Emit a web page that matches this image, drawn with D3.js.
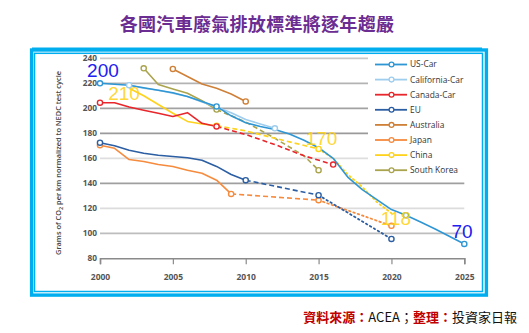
<!DOCTYPE html>
<html><head><meta charset="utf-8">
<script src="https://cdn.jsdelivr.net/npm/d3@7"></script>
<style>
html,body{margin:0;padding:0;background:#fff;}
svg{display:block;}
</style></head>
<body>
<svg id="chart" width="529" height="333"></svg>
<script>
// ---------- data ----------
const titleText = "各國汽車廢氣排放標準將逐年趨嚴";
const xTicks = [2000, 2005, 2010, 2015, 2020, 2025];
const yTicks = [80, 100, 120, 140, 160, 180, 200, 220, 240];
const yAxisTitle = ["Grams of CO", "2", " per km normalized to NEDC test cycle"];
const seriesNames = ["US-Car", "California-Car", "Canada-Car", "EU", "Australia", "Japan", "China", "South Korea"];

// solid = historical, dashed = enacted target, dotted = proposed target
const usCarSolid = [[2000,220],[2001,219.3],[2002,218.5],[2003,216.5],[2004,214.5],[2005,212.5],[2006,209.5],[2007,205.5],[2008,201.5],[2009,194],[2010,188.5],[2011,185.5],[2012,183],[2013,179.5],[2014,174.5],[2015,168.5],[2016,160],[2017,145],[2018,135],[2019,127],[2020,119],[2021,114.5],[2022,109],[2023,103.5],[2024,97.5],[2025,91.5]];
const usCarMarks = [[2000,220],[2008,201.5],[2021,114.5],[2025,91.5]];

const californiaSolid = [[2002,218.5],[2003,216],[2004,214.5],[2005,212],[2006,209.5],[2007,205],[2008,201],[2009,196.5],[2010,191],[2011,187.5],[2012,184]];
const californiaMarks = [[2002,218.5],[2012,184]];

const canadaSolid = [[2000,204.5],[2001,204.5],[2002,201],[2003,198.5],[2004,196],[2005,193.5],[2006,196.5],[2007,188],[2008,185.5]];
const canadaDashed = [[2008,185.5],[2010,179],[2012,171],[2014,162],[2016,155]];
const canadaMarks = [[2000,204.5],[2008,185.5],[2016,155]];

const euSolid = [[2000,172.5],[2001,170],[2002,166.5],[2003,164],[2004,162.5],[2005,161.5],[2006,160.5],[2007,158.5],[2008,153.5],[2009,147],[2010,142.5]];
const euDashed = [[2010,142.5],[2015,130.5]];
const euDotted = [[2015,130.5],[2020,95.5]];
const euMarks = [[2000,172.5],[2010,142.5],[2015,130.5],[2020,95.5]];

const australiaSolid = [[2005,231.5],[2006,225.5],[2007,219.5],[2008,216],[2009,211.5],[2010,205.5]];
const australiaMarks = [[2005,231.5],[2010,205.5]];

const japanSolid = [[2000,170.5],[2001,168],[2002,159],[2003,157.5],[2004,155],[2005,153.5],[2006,150.5],[2007,148],[2008,142.5],[2009,131.5]];
const japanDashed = [[2009,131.5],[2015,126.5]];
const japanDotted = [[2015,126.5],[2020,106]];
const japanMarks = [[2000,170.5],[2009,131.5],[2015,126.5],[2020,106]];

const chinaSolid = [[2002,216],[2003,210],[2004,203],[2005,196],[2006,189.5],[2007,187.5],[2008,186]];
const chinaDashed = [[2008,186],[2010,182],[2012,176],[2015,167.5]];
const chinaDotted = [[2015,167.5],[2016,160],[2017,147],[2018,137],[2019,125],[2020,116]];
const chinaMarks = [[2008,186],[2015,167.5]];

const koreaSolid = [[2003,232],[2004,219],[2005,215.5],[2006,212],[2007,206],[2008,199]];
const koreaDashed = [[2008,199],[2010,189],[2012,176],[2014,162],[2015,150.5]];
const koreaMarks = [[2003,232],[2008,199],[2015,150.5]];

const annotations = [
  {text:"200", year:2000.2, value:225,   kind:"blue"},
  {text:"210", year:2001.65, value:206.5, kind:"yellow"},
  {text:"170", year:2015.2, value:170.5, kind:"yellow"},
  {text:"118", year:2020.3, value:106.5, kind:"yellow"},
  {text:"70",  year:2024.85, value:96.2,  kind:"blue"}
];

const sourceParts = [
  {t:"資料來源：", red:true},
  {t:"ACEA；", red:false},
  {t:"整理：", red:true},
  {t:"投資家日報", red:false}
];

// ---------- styles ----------
const colors = {
  "US-Car":"#2f96d4", "California-Car":"#9fcdee", "Canada-Car":"#e8262c", "EU":"#2b5ea3",
  "Australia":"#cf8038", "Japan":"#f68b3e", "China":"#ffd21c", "South Korea":"#aaa44e"
};
const series = [
  {name:"US-Car", solid:usCarSolid, marks:usCarMarks},
  {name:"California-Car", solid:californiaSolid, marks:californiaMarks},
  {name:"Canada-Car", solid:canadaSolid, dashed:canadaDashed, marks:canadaMarks},
  {name:"EU", solid:euSolid, dashed:euDashed, dotted:euDotted, marks:euMarks},
  {name:"Australia", solid:australiaSolid, marks:australiaMarks},
  {name:"Japan", solid:japanSolid, dashed:japanDashed, dotted:japanDotted, marks:japanMarks},
  {name:"China", solid:chinaSolid, dashed:chinaDashed, dotted:chinaDotted, marks:chinaMarks},
  {name:"South Korea", solid:koreaSolid, dashed:koreaDashed, marks:koreaMarks}
];
const gridColor = {240:"#c9c9c9",220:"#b3b3b3",200:"#a2a2a2",180:"#9a9a9a",160:"#dedede",140:"#9f9f9f",120:"#dcdcdc",100:"#bdbdbd"};

const svg = d3.select("#chart");
const x = d3.scaleLinear().domain([2000, 2025]).range([100, 464.3]);
const y = d3.scaleLinear().domain([80, 240]).range([258.3, 58.3]);

// title
svg.append("text").attr("x", 257).attr("y", 31).attr("text-anchor","middle")
  .attr("font-family","'Noto Sans CJK TC','Noto Sans CJK SC',sans-serif")
  .attr("font-weight","bold").attr("font-size",18).attr("letter-spacing",0.3)
  .attr("fill","#6b2d92").text(titleText);
svg.append("rect").attr("x",32).attr("y",47.5).attr("width",450).attr("height",2).attr("fill","#00aeef");

// frame
svg.append("rect").attr("x",31.6).attr("y",50).attr("width",454.8).attr("height",245.1)
  .attr("fill","none").attr("stroke","#00aeef").attr("stroke-width",3.4);
svg.append("rect").attr("x",34.5).attr("y",53.3).attr("width",448).attr("height",38.2+200)
  .attr("fill","none").attr("stroke","#00aeef").attr("stroke-width",1.5);

// gridlines
svg.append("g").selectAll("line").data(yTicks.filter(v => v > 80)).join("line")
  .attr("x1", x(2000)).attr("x2", x(2025))
  .attr("y1", d => y(d)).attr("y2", d => y(d))
  .attr("stroke", d => gridColor[d]).attr("stroke-width", 1.8);

// x axis
const xAxis = d3.axisBottom(x).tickValues(xTicks).tickFormat(d3.format("d")).tickSize(6).tickPadding(10);
const gx = svg.append("g").attr("transform", `translate(0,${y(80)})`).call(xAxis);
gx.select(".domain").attr("stroke","#8a8a8a").attr("stroke-width",1.6);
gx.selectAll(".tick line").attr("stroke","#8a8a8a").attr("stroke-width",1.2);
gx.selectAll(".tick text").attr("font-family","'Open Sans',sans-serif").attr("font-weight","bold")
  .attr("font-size",8.5).attr("fill","#555");

// y axis (labels only)
const yAxis = d3.axisLeft(y).tickValues(yTicks).tickSize(0).tickPadding(3);
const gy = svg.append("g").attr("transform", `translate(${x(2000)},0)`).call(yAxis);
gy.select(".domain").remove();
gy.selectAll(".tick text").attr("font-family","'Open Sans',sans-serif").attr("font-weight","bold")
  .attr("font-size",8.3).attr("fill","#555");

// y axis title
const yt = svg.append("text").attr("transform","translate(61,163) rotate(-90)")
  .attr("text-anchor","middle").attr("font-family","'Open Sans',sans-serif")
  .attr("font-weight",600).attr("font-size",7.4).attr("fill","#444");
yt.append("tspan").text(yAxisTitle[0]);
yt.append("tspan").attr("dy",2).attr("font-size",5.5).text(yAxisTitle[1]);
yt.append("tspan").attr("dy",-2).text(yAxisTitle[2]);

// lines
const line = d3.line().x(d => x(d[0])).y(d => y(d[1])).curve(d3.curveLinear);
const gl = svg.append("g");
const drawOrder = ["Australia","South Korea","China","Canada-Car","Japan","EU","California-Car","US-Car"];
drawOrder.forEach(n => {
  const s = series.find(q => q.name === n);
  const c = colors[n];
  if (s.dotted) gl.append("path").attr("d", line(s.dotted)).attr("fill","none").attr("stroke",c)
     .attr("stroke-width",1.8).attr("stroke-dasharray","1.6,3").attr("stroke-linecap","round");
  if (s.dashed) gl.append("path").attr("d", line(s.dashed)).attr("fill","none").attr("stroke",c)
     .attr("stroke-width",1.6).attr("stroke-dasharray","5,3");
  gl.append("path").attr("d", line(s.solid)).attr("fill","none").attr("stroke",c)
     .attr("stroke-width", n === "California-Car" ? 1.6 : 1.6).attr("stroke-linejoin","round");
});
drawOrder.forEach(n => {
  const s = series.find(q => q.name === n);
  gl.append("g").selectAll("circle").data(s.marks).join("circle")
    .attr("cx", d => x(d[0])).attr("cy", d => y(d[1])).attr("r", 2.6)
    .attr("fill","#fff").attr("stroke", colors[n]).attr("stroke-width",1.4);
});

// legend
const lg = svg.append("g");
lg.append("rect").attr("x",368).attr("y",55).attr("width",104).attr("height",123).attr("fill","#fff");
seriesNames.forEach((n, i) => {
  const yy = 64.5 + i * 15.1;
  lg.append("line").attr("x1",375).attr("x2",407).attr("y1",yy).attr("y2",yy)
    .attr("stroke",colors[n]).attr("stroke-width",1.8);
  lg.append("circle").attr("cx",391.5).attr("cy",yy).attr("r",2.4)
    .attr("fill","#fff").attr("stroke",colors[n]).attr("stroke-width",1.3);
  lg.append("text").attr("x",410).attr("y",yy).attr("dy","0.35em")
    .attr("font-family","'Open Sans',sans-serif").attr("font-size",8.4).attr("fill","#333").text(n);
});

// annotations
const annColor = {blue:"#2020f0", yellow:"#ffd21c"};
svg.append("g").selectAll("text").data(annotations).join("text")
  .attr("x", d => x(d.year)).attr("y", d => y(d.value)).attr("text-anchor","middle")
  .attr("font-family","'Liberation Sans',Arial,sans-serif").attr("font-size",19)
  .attr("fill", d => annColor[d.kind]).attr("fill-opacity", d => d.kind === "yellow" ? 0.9 : 1)
  .text(d => d.text);

// source
const src = svg.append("text").attr("x",517).attr("y",322).attr("text-anchor","end")
  .attr("font-family","'Noto Sans CJK TC','Noto Sans CJK SC',sans-serif").attr("font-size",13);
sourceParts.forEach(p => {
  src.append("tspan").attr("fill", p.red ? "#c00000" : "#111")
    .attr("font-weight", p.red ? "bold" : "normal").text(p.t);
});
</script>
</body></html>
